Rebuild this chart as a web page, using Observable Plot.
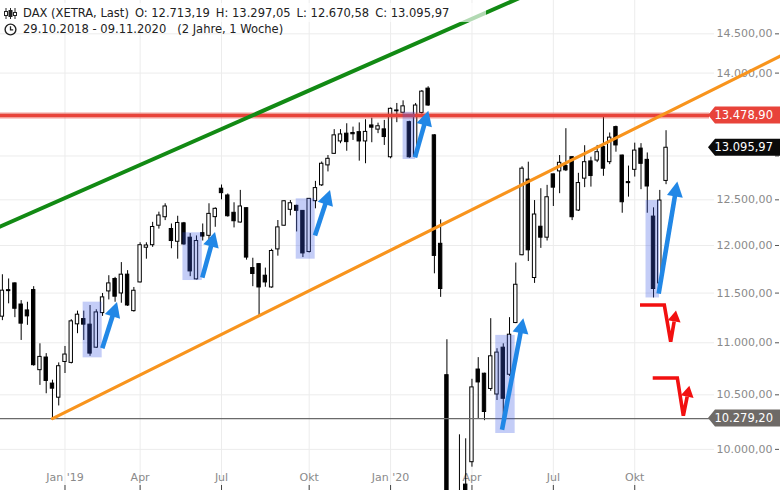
<!DOCTYPE html>
<html>
<head>
<meta charset="utf-8">
<script src="https://cdn.jsdelivr.net/npm/d3@7"></script>
<script src="https://cdn.jsdelivr.net/npm/@observablehq/plot@0.6"></script>
<style>
  html, body { margin: 0; padding: 0; background: #fff; }
  #wrap { position: relative; width: 780px; height: 490px; overflow: hidden; }
  #hdr { position: absolute; left: 0; top: 0; font-family: "DejaVu Sans Condensed", "DejaVu Sans", sans-serif; font-stretch: condensed; font-size: 12.8px; color: #222; }
  #hdr .l1 { position: absolute; left: 0; top: 3px; height: 19px; width: 486px; background: rgba(255,255,255,0.68); white-space: pre; line-height: 19px; }
  #hdr .l2 { position: absolute; left: 0; top: 20px; height: 18px; width: 310px; white-space: pre; line-height: 18px; }
  #hdr .txt { position: absolute; left: 23px; top: 0; }
  #hdr svg { position: absolute; left: 4px; }
  #hdr .g { margin-left: 6px; }
</style>
</head>
<body>
<div id="wrap">
  <div id="chart"></div>
  <div id="hdr">
    <div class="l1">
      <svg width="13" height="13" viewBox="0 0 13 13" style="top:4px">
        <g stroke="#222" stroke-width="1" fill="none">
          <line x1="2" y1="1" x2="2" y2="12"/><rect x="0.5" y="4.5" width="3" height="4" fill="#fff"/>
          <line x1="6.5" y1="1" x2="6.5" y2="12"/><rect x="5" y="3.5" width="3" height="6" fill="#222"/>
          <line x1="11" y1="1" x2="11" y2="12"/><rect x="9.5" y="5.5" width="3" height="3" fill="#fff"/>
        </g>
      </svg>
      <span class="txt" id="line1"></span>
    </div>
    <div class="l2">
      <svg width="13" height="13" viewBox="0 0 13 13" style="top:3px">
        <circle cx="6.5" cy="6.5" r="5.4" stroke="#222" stroke-width="1.4" fill="none"/>
        <path d="M6.5 3.2 V6.8 H9.2" stroke="#222" stroke-width="1.3" fill="none"/>
      </svg>
      <span class="txt" id="line2"></span>
    </div>
  </div>
</div>
<script>
// ---------------- DATA (weekly candles, DAX XETRA, 29.10.2018 - 09.11.2020) ----------------
const weekIndex = d3.range(107); // week 0 = 29.10.2018, week 106 = 09.11.2020

const open = [11260,11530,11600,11383,11323,11531,10734,10856,10606,10473,
10813,10804,11183,11236,11180,10952,11296,11517,11646,11496,
11691,11316,11610,11976,12003,12214,12307,12178,12040,12240,
12084,11642,12133,12104,12308,12625,12549,12356,12249,12407,
11760,11802,11680,11558,11958,12214,12389,12433,12377,11930,
12485,12663,12891,13025,13170,13262,13270,13280,13170,13360,
13310,13313,12985,13540,13512,13399,12996,13510,13807,13242,
12018,10686,9230,8930,9690,9886,10740,10700,10555,10503,
10952,10690,11196,11896,12728,11656,12203,12084,12788,12822,
12883,12986,12381,12739,12937,12947,13103,12928,13340,13005,
12700,12840,13086,12955,12314,11600,12713.19];

const high = [11690,11646,11605,11423,11406,11566,10990,10894,10638,10804,
10964,11230,11316,11316,11373,11330,11496,11680,11663,11818,
11733,11558,12029,12029,12251,12363,12456,12233,12318,12250,
12128,12103,12233,12456,12411,12667,12566,12467,12606,12410,
11864,11805,11760,11960,12271,12490,12492,12440,12380,12515,
12708,12930,13005,13310,13310,13380,13340,13390,13428,13447,
13387,13420,13570,13625,13657,13410,13625,13783,13830,13250,
12278,11030,9400,10131,10095,10647,10855,10705,11240,10942,
10990,11250,11813,12875,12928,12492,12625,12663,12790,13005,
13321,12990,12800,13120,12986,13123,13460,13270,13352,13010,
12883,13150,13144,13035,12411,12606,13297.05];

const low = [11220,11390,11250,11023,11173,10772,10589,10510,10279.2,10396,
10702,10794,11090,11023,10868,10945,11263,11430,11406,11396,
11363,11306,11605,11854,11980,12177,12270,11965,11854,12003,
11670,11636,12048,12048,12197,12500,12308,12190,12243,11844,
11566,11256,11560,11550,11886,12210,12322,12146,11871,11920,
12400,12650,12816,13017,13143,13055,13182,12940,12910,13155,
13262,13123,12967,13393,13500,12975,12985,13495,13590,11700,
11456,8970,8256,8490,9390,9842,10280,10260,10533,10447,
10200,10675,11190,11890,11829,11600,11969,12048,12426,12569,
12820,12270,12370,12637,12643,12923,12766,12900,13044,12351,
12530,12757,12614,12351,11450,11594,12670.58];

const close = [11525,11520,11340,11190,11263,10782,10862,10631,10558,10772,
10885,11213,11280,11180,10894,11303,11456,11600,11463,11691,
11373,11524,12003,12000,12200,12326,12426,12048,12244,12011,
11725,12048,12096,12344,12400,12575,12318,12263,12426,11871,
11698,11558,11610,11941,12196,12484,12462,12378,11915,12511,
12632,12910,12967,13242,13253,13162,13255,13170,13283,13333,
13350,13222,13560,13530,13590,12985,13600,13770,13600,11889,
11542,9232,8929,9633,9525,10570,10617,10340,10868,10904,
10463,11080,11586,12853,11948,12337,12084,12529,12637,12921,
12834,12307,12689,12928,12769,13044,12853,13215,13123,12473,
12688,13063,12909,12650,11542,12492,13095.97];

// axis ticks
const xTickWeeks  = [10, 22, 35, 49, 62, 75, 88, 101];
const xTickLabels = ["Jan '19", "Apr", "Jul", "Okt", "Jan '20", "Apr", "Jul", "Okt"];
const yTickValues = [10000, 10500, 11000, 11500, 12000, 12500, 13000, 13500, 14000, 14500];
const yTickLabels = ["10.000,00","10.500,00","11.000,00","11.500,00","12.000,00","12.500,00","13.000,00","13.500,00","14.000,00","14.500,00"];

// horizontal levels
const resistanceLevel = 13478.90;
const supportLevel = 10279.20;

// trend lines (week, price)
const greenWeeks = [-1, 85];
const greenPrices = [12186, 15062];
const orangeWeeks = [8, 124.3];
const orangePrices = [10279.2, 14216];

// highlight boxes (week range, price range)
const boxWeekFrom = [12.9, 28.84, 46.93, 64.0, 78.8, 102.8];
const boxWeekTo   = [15.94, 31.93, 49.96, 66.0, 81.9, 104.96];
const boxTop      = [11407, 12137, 12511, 13518, 11073, 12492];
const boxBottom   = [10853, 11630, 11854, 12959, 10143, 11450];

// blue arrows
const arrowFromWeek  = [16.04, 32.01, 50.01, 65.98, 79.88, 104.9];
const arrowFromPrice = [10942, 11656, 12103, 12978, 10173, 11490];
const arrowToWeek    = [18.39, 34.04, 52.41, 68.11, 83.28, 107.88];
const arrowToPrice   = [11403, 12140, 12606, 13531, 11240, 12700];

// red scenario arrows
const red1Weeks  = [101.92, 105.8, 106.82, 107.67];
const red1Prices = [11373, 11373, 11006, 11316];
const red2Weeks  = [103.95, 107.88, 108.84, 109.8];
const red2Prices = [10654, 10654, 10301, 10580];

// ---------------- BUILD ----------------
const de = d3.formatLocale({decimal: ",", thousands: ".", grouping: [3], currency: ["", ""]});
const fmt = de.format(",.2f");

const n = close.length;
const candles = weekIndex.map(i => ({i, o: open[i], h: high[i], l: low[i], c: close[i], up: close[i] >= open[i]}));
const boxes = boxWeekFrom.map((_, k) => ({x1: boxWeekFrom[k], x2: boxWeekTo[k], y1: boxBottom[k], y2: boxTop[k]}));
const green = greenWeeks.map((w, k) => ({w, p: greenPrices[k]}));
const orange = orangeWeeks.map((w, k) => ({w, p: orangePrices[k]}));
const yTicks = yTickValues.map((v, k) => ({v, label: yTickLabels[k]}));
const xTicks = xTickWeeks.map((w, k) => ({w, label: xTickLabels[k]}));
const tagLevels = [resistanceLevel, close[n - 1], supportLevel];
// axis labels that sit under a price tag are covered by it in the reference
const visibleYTicks = yTicks.filter(t => !tagLevels.some(v => Math.abs(Math.log(t.v / v)) < 0.009));

const GRID = "#ececec";
const LABEL = "#8a8a8a";

const chart = Plot.plot({
  width: 780, height: 490,
  marginLeft: 0, marginRight: 75, marginTop: 0, marginBottom: 0,
  style: {fontFamily: "'DejaVu Sans', sans-serif", fontSize: "11px", background: "transparent", overflow: "visible"},
  x: {type: "linear", domain: [-0.3, 112.3], axis: null},
  y: {type: "log", domain: [9639, 14939], axis: null},
  marks: [
    // grid
    Plot.ruleY(yTicks, {y: "v", stroke: GRID, strokeWidth: 1, insetRight: -9}),
    Plot.ruleX(xTicks, {x: "w", stroke: GRID, strokeWidth: 1}),
    // x axis labels & ticks
    Plot.text(xTicks, {x: "w", text: "label", frameAnchor: "bottom", dy: -10, fill: LABEL, fontSize: 11}),
    Plot.ruleX(xTicks, {x: "w", insetTop: 485, stroke: "#444", strokeWidth: 1}),
    // y axis labels & ticks (right side)
    Plot.text(visibleYTicks, {y: "v", text: "label", frameAnchor: "right", textAnchor: "end", dx: 67, fill: LABEL, fontSize: 11}),
    Plot.ruleY(yTicks, {y: "v", insetLeft: 775, insetRight: -74, stroke: "#555", strokeWidth: 1}),
    // candles
    Plot.ruleX(candles, {x: "i", y1: "l", y2: "h", stroke: "#000", strokeWidth: 1, clip: true}),
    Plot.rect(candles, {x1: d => d.i - 0.27, x2: d => d.i + 0.27, y1: "o", y2: "c", fill: d => d.up ? "#fff" : "#000", stroke: "#000", strokeWidth: 1, clip: true}),
    // levels
    Plot.ruleY([supportLevel], {stroke: "#6a6a6a", strokeWidth: 1.2, insetRight: -4}),
    Plot.ruleY([resistanceLevel], {stroke: "#e8433a", strokeOpacity: 0.35, strokeWidth: 6.5, insetRight: -4}),
    Plot.ruleY([resistanceLevel], {stroke: "#e8433a", strokeWidth: 3.6, insetRight: -4}),
    // trend lines
    Plot.line(green, {x: "w", y: "p", stroke: "#128a14", strokeWidth: 4, clip: true}),
    Plot.line(orange, {x: "w", y: "p", stroke: "#f8941d", strokeWidth: 3.2}),
    // highlight boxes
    Plot.rect(boxes, {x1: "x1", x2: "x2", y1: "y1", y2: "y2", fill: "rgb(60,90,230)", fillOpacity: 0.3})
  ]
});

document.getElementById("chart").appendChild(chart);

// ---------------- annotations through the plot's scales ----------------
const sx = chart.scale("x"), sy = chart.scale("y");
const X = v => sx.apply(v), Y = v => sy.apply(v);
const svg = d3.select(chart);
const ann = svg.append("g");

function head(x0, y0, x1, y1, L, W) {
  const dx = x1 - x0, dy = y1 - y0, d = Math.hypot(dx, dy), ux = dx / d, uy = dy / d;
  const bx = x1 - ux * L, by = y1 - uy * L;
  return {pts: [[x1, y1], [bx - uy * W, by + ux * W], [bx + uy * W, by - ux * W]], bx, by};
}

// blue arrows
arrowFromWeek.forEach((_, k) => {
  const x0 = X(arrowFromWeek[k]), y0 = Y(arrowFromPrice[k]);
  const x1 = X(arrowToWeek[k]), y1 = Y(arrowToPrice[k]);
  const h = head(x0, y0, x1, y1, 15, 8);
  ann.append("line").attr("x1", x0).attr("y1", y0).attr("x2", h.bx + (x1 - h.bx) * 0.2).attr("y2", h.by + (y1 - h.by) * 0.2)
    .attr("stroke", "#2187e6").attr("stroke-width", 4.6).attr("stroke-linecap", "butt");
  ann.append("polygon").attr("points", h.pts.map(p => p.join(",")).join(" ")).attr("fill", "#2187e6");
});

// red scenario arrows
[[red1Weeks, red1Prices], [red2Weeks, red2Prices]].forEach(([ws, ps]) => {
  const pts = ws.map((w, k) => [X(w), Y(ps[k])]);
  const m = pts.length;
  const h = head(pts[m - 2][0], pts[m - 2][1], pts[m - 1][0], pts[m - 1][1], 11, 6.5);
  const shaft = pts.slice(0, m - 1).concat([[h.bx, h.by]]);
  ann.append("path").attr("d", d3.line()(shaft)).attr("fill", "none").attr("stroke", "#f21010").attr("stroke-width", 3.6).attr("stroke-linejoin", "miter");
  ann.append("polygon").attr("points", h.pts.map(p => p.join(",")).join(" ")).attr("fill", "#f21010");
});

// price tags on the right axis
const tagFills = ["#e8433a", "#0a0a0a", "#6e6a67"];
const left = 705 + 3;
tagLevels.forEach((v, k) => {
  const y = Y(v);
  ann.append("polygon")
    .attr("points", [[left, y], [left + 7, y - 8.5], [780, y - 8.5], [780, y + 8.5], [left + 7, y + 8.5]].map(p => p.join(",")).join(" "))
    .attr("fill", tagFills[k]);
  ann.append("text").attr("x", 773).attr("y", y).attr("dy", "0.36em").attr("text-anchor", "end")
    .attr("fill", "#fff").attr("font-size", 11.5).attr("font-family", "'DejaVu Sans', sans-serif").text(fmt(v));
});

// header
const last = n - 1;
document.getElementById("line1").innerHTML =
  `DAX (XETRA, Last)<span class="g">O: ${fmt(open[last])}</span><span class="g">H: ${fmt(high[last])}</span><span class="g">L: ${fmt(low[last])}</span><span class="g">C: ${fmt(close[last])}</span>`;
document.getElementById("line2").textContent = "29.10.2018 - 09.11.2020   (2 Jahre, 1 Woche)";
</script>
</body>
</html>
